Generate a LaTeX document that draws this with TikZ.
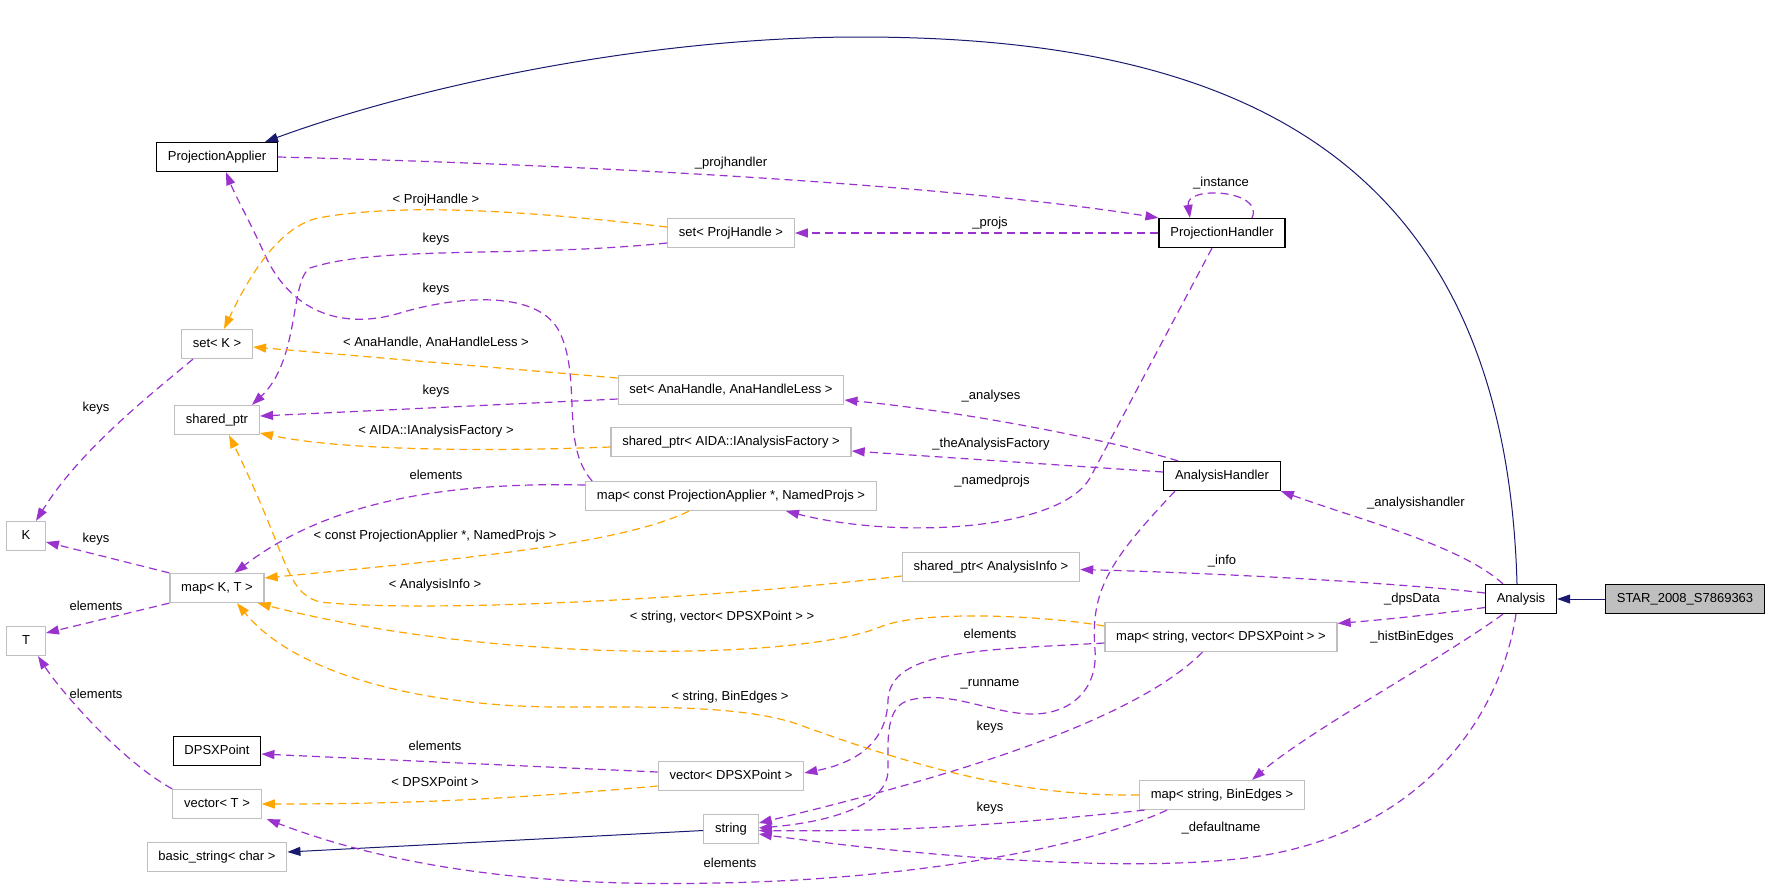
\documentclass[tikz,border=0pt]{standalone}
\usepackage{fontspec}
\setmainfont{Liberation Sans}
\usepackage{tikz}
\usetikzlibrary{arrows.meta}
\definecolor{inhblue}{HTML}{191970}
\definecolor{usepurple}{HTML}{9A32CD}
\definecolor{tplorange}{HTML}{FFA500}
\definecolor{boxgray}{HTML}{BFBFBF}

\begin{document}
\begin{tikzpicture}[x=1pt, y=-1pt,
                    every node/.style={font=\fontsize{13}{15}\selectfont, text height=9.5pt, text depth=2.5pt},
                    cls/.style={draw=black, line width=1.2pt, inner xsep=11.3pt, minimum height=29pt, minimum width=38.7pt},
                    tpl/.style={cls, draw=boxgray},
                    lbl/.style={inner sep=0pt},
                    inh/.style={draw=inhblue, line width=1pt, -{Triangle[length=13pt,width=9pt]}},
                    mem/.style={draw=usepurple, line width=1.2pt, dash pattern=on 8pt off 5pt, -{Triangle[length=13pt,width=9pt]}},
                    tmpl/.style={mem, draw=tplorange}]
                    \useasboundingbox (0,0) rectangle (1768,892);

                    \node[cls] (pa) at (217,157) {ProjectionApplier};
                    \node[cls] (ph) at (1222,233) {ProjectionHandler};
                    \node[tpl] (setph) at (731,233) {set< ProjHandle >};
                    \node[tpl] (setk) at (217,344) {set< K >};
                    \node[tpl] (sptr) at (217,420) {shared\_ptr};
                    \node[tpl] (setana) at (731,390) {set< AnaHandle, AnaHandleLess >};
                    \node[tpl] (sptraida) at (731,442) {shared\_ptr< AIDA::IAnalysisFactory >};
                    \node[tpl] (k) at (26,536) {K};
                    \node[tpl] (mapkt) at (217,588) {map< K, T >};
                    \node[tpl] (t) at (26,641) {T};
                    \node[cls] (dpsx) at (217,751) {DPSXPoint};
                    \node[tpl] (vect) at (217,804) {vector< T >};
                    \node[tpl] (bstr) at (217,857) {basic\_string< char >};
                    \node[tpl] (mapcpa) at (731,496) {map< const ProjectionApplier *, NamedProjs >};
                    \node[tpl] (sptrinfo) at (991,567) {shared\_ptr< AnalysisInfo >};
                    \node[cls] (ah) at (1222,476) {AnalysisHandler};
                    \node[cls] (ana) at (1521,599) {Analysis};
                    \node[cls, fill=boxgray] (star) at (1685,599) {STAR\_2008\_S7869363};
                    \node[tpl] (mapsv) at (1221,637) {map< string, vector< DPSXPoint > >};
                    \node[tpl] (vecdps) at (731,776) {vector< DPSXPoint >};
                    \node[tpl] (str) at (731,829) {string};
                    \node[tpl] (mapbe) at (1222,795) {map< string, BinEdges >};

                    % inheritance
                    \draw[inh] (star.west) -- (ana.east);
                    \draw[inh] ([xshift=-4pt]ana.north) .. controls (1505,150) and (1230,37) .. (859,37)
                        .. controls (650,37) and (420,85) .. ([xshift=48pt]pa.north);
                    \draw[inh] ([yshift=-1.5pt]str.west) -- ([yshift=5pt]bstr.east);

                    % members
                    \draw[mem] (pa.east) .. controls (600,165) and (950,185) .. (ph.north west);
                    \draw[mem] (ph.west) -- (setph.east);
                    \draw[mem] ([xshift=30pt]ph.north) .. controls (1265,190) and (1185,185) .. ([xshift=-32pt]ph.north);
                    \draw[mem] ([yshift=-10pt]setph.west) .. controls (520,258) and (380,245) .. (310,268)
                        .. controls (290,280) and (300,360) .. ([xshift=-8pt]sptr.north east);
                    \draw[mem] ([xshift=7pt]mapcpa.north west) .. controls (560,445) and (582,380) .. (560,333)
                        .. controls (540,290) and (460,295) .. (400,313)
                        .. controls (340,331) and (290,310) .. (265,255)
                        .. controls (250,222) and (235,195) .. ([xshift=9pt]pa.south);
                    \draw[mem] ([yshift=-9pt]setana.west) -- ([yshift=4pt]sptr.east);
                    \draw[mem] ([xshift=-24pt]setk.south) .. controls (150,395) and (80,450) .. ([xshift=10pt]k.north);
                    \draw[mem] (mapkt.north west) -- ([yshift=-6pt]k.east);
                    \draw[mem] (mapkt.south west) -- ([yshift=8pt]t.east);
                    \draw[mem] (vect.north west) .. controls (120,760) and (60,690) .. ([xshift=12pt]t.south);
                    \draw[mem] ([yshift=11pt]mapcpa.west) .. controls (450,482) and (330,500) .. ([xshift=17.5pt]mapkt.north);
                    \draw[mem] ([yshift=4pt]vecdps.west) -- ([yshift=-3pt]dpsx.east);
                    \draw[mem] ([xshift=-55pt]mapbe.south) .. controls (1080,850) and (900,880) .. (716,883)
                        .. controls (550,887) and (400,870) .. ([xshift=5pt]vect.south east);
                    \draw[mem] ([xshift=-77.5pt]mapbe.south) .. controls (1000,825) and (900,832) .. ([yshift=-1.5pt]str.east);
                    \draw[mem] ([xshift=-5pt]ana.south) .. controls (1500,720) and (1420,830) .. (1260,856)
                        .. controls (1150,873) and (950,860) .. ([yshift=-5pt]str.east);
                    \draw[mem] ([xshift=-18pt]ana.south) .. controls (1440,660) and (1310,730) .. ([xshift=30pt]mapbe.north);
                    \draw[mem] ([yshift=-8.5pt]ana.west) .. controls (1430,615) and (1380,620) .. ([yshift=-1.5pt]mapsv.north east);
                    \draw[mem] ([yshift=6pt]ana.west) .. controls (1420,585) and (1250,574) .. ([yshift=-2.5pt]sptrinfo.east);
                    \draw[mem] ([xshift=-18pt]ana.north) .. controls (1460,545) and (1360,520) .. (ah.south east);
                    \draw[mem] ([xshift=15pt]ah.north west) .. controls (1100,437) and (950,410) .. ([yshift=-10pt]setana.east);
                    \draw[mem] ([yshift=4pt]ah.west) -- ([yshift=-9pt]sptraida.east);
                    \draw[mem] ([xshift=-10pt]ph.south) -- (1090,478) .. controls (1060,530) and (900,540) .. ([xshift=55pt]mapcpa.south);
                    \draw[mem] ([xshift=-47pt]ah.south) .. controls (1110,560) and (1090,590) .. (1095,650)
                        .. controls (1098,690) and (1070,715) .. (1030,714)
                        .. controls (990,713) and (950,690) .. (910,700)
                        .. controls (885,706) and (888,740) .. (888,770)
                        .. controls (888,805) and (830,822) .. ([yshift=1pt]str.east);
                    \draw[mem] ([yshift=-6pt]mapsv.west) .. controls (980,650) and (890,650) .. (888,700)
                        .. controls (887,740) and (860,762) .. ([yshift=3pt]vecdps.east);
                    \draw[mem] ([xshift=-18.5pt]mapsv.south) .. controls (1140,715) and (980,770) .. ([yshift=6pt]str.east);

                    % template instances
                    \draw[tmpl] ([yshift=6pt]setph.west) .. controls (520,210) and (400,203) .. (318,218)
                        .. controls (275,228) and (245,285) .. ([xshift=7pt]setk.north);
                    \draw[tmpl] ([yshift=12pt]setana.west) -- ([yshift=-3pt]setk.east);
                    \draw[tmpl] ([yshift=-5pt]sptraida.west) .. controls (480,452) and (340,450) .. ([yshift=-13pt]sptr.east);
                    \draw[tmpl] ([xshift=-42pt]mapcpa.south) .. controls (620,545) and (450,560) .. ([yshift=10pt]mapkt.east);
                    \draw[tmpl] ([yshift=-9pt]sptrinfo.west) .. controls (700,600) and (420,613) .. (320,602)
                        .. controls (285,592) and (290,560) .. ([xshift=12pt]sptr.south);
                    \draw[tmpl] ([yshift=11pt]mapsv.west) .. controls (1040,615) and (920,610) .. (880,627)
                        .. controls (800,660) and (500,665) .. ([xshift=-7pt]mapkt.south east);
                    \draw[tmpl] (mapbe.west) .. controls (1020,797) and (910,765) .. (800,725)
                        .. controls (745,705) and (650,707) .. (560,707)
                        .. controls (440,707) and (300,680) .. ([xshift=20pt]mapkt.south);
                    \draw[tmpl] ([yshift=-10pt]vecdps.west) .. controls (500,800) and (400,804) .. (vect.east);

                    \node[lbl] (lprojhandler) at (731,163) {\_projhandler};
                    \node[lbl] (linstance) at (1221,183) {\_instance};
                    \node[lbl] (lprojs) at (990,223) {\_projs};
                    \node[lbl] (lprojhandle) at (436,200) {< ProjHandle >};
                    \node[lbl] (lkeysa) at (436,239) {keys};
                    \node[lbl] (lkeysb) at (436,289) {keys};
                    \node[lbl] (lanahandle) at (436,343) {< AnaHandle, AnaHandleLess >};
                    \node[lbl] (lkeysc) at (436,391) {keys};
                    \node[lbl] (laida) at (436,431) {< AIDA::IAnalysisFactory >};
                    \node[lbl] (lanalyses) at (991,396) {\_analyses};
                    \node[lbl] (lfactory) at (991,444) {\_theAnalysisFactory};
                    \node[lbl] (lnamedprojs) at (992,481) {\_namedprojs};
                    \node[lbl] (lelema) at (436,476) {elements};
                    \node[lbl] (lconstpa) at (435,536) {< const ProjectionApplier *, NamedProjs >};
                    \node[lbl] (lahandler) at (1416,503) {\_analysishandler};
                    \node[lbl] (linfo) at (1222,561) {\_info};
                    \node[lbl] (lanainfo) at (435,585) {< AnalysisInfo >};
                    \node[lbl] (ldps) at (1412,599) {\_dpsData};
                    \node[lbl] (lstrvec) at (722,617) {< string, vector< DPSXPoint > >};
                    \node[lbl] (lelemb) at (990,635) {elements};
                    \node[lbl] (lhist) at (1412,637) {\_histBinEdges};
                    \node[lbl] (lrun) at (990,683) {\_runname};
                    \node[lbl] (lstrbin) at (730,697) {< string, BinEdges >};
                    \node[lbl] (lkeysd) at (990,727) {keys};
                    \node[lbl] (lelemc) at (435,747) {elements};
                    \node[lbl] (ldpsx) at (435,783) {< DPSXPoint >};
                    \node[lbl] (lkeyse) at (990,808) {keys};
                    \node[lbl] (ldefault) at (1221,828) {\_defaultname};
                    \node[lbl] (lelemd) at (730,864) {elements};
                    \node[lbl] (lkeysf) at (96,408) {keys};
                    \node[lbl] (lkeysg) at (96,539) {keys};
                    \node[lbl] (leleme) at (96,607) {elements};
                    \node[lbl] (lelemf) at (96,695) {elements};
                \end{tikzpicture}
\end{document}
